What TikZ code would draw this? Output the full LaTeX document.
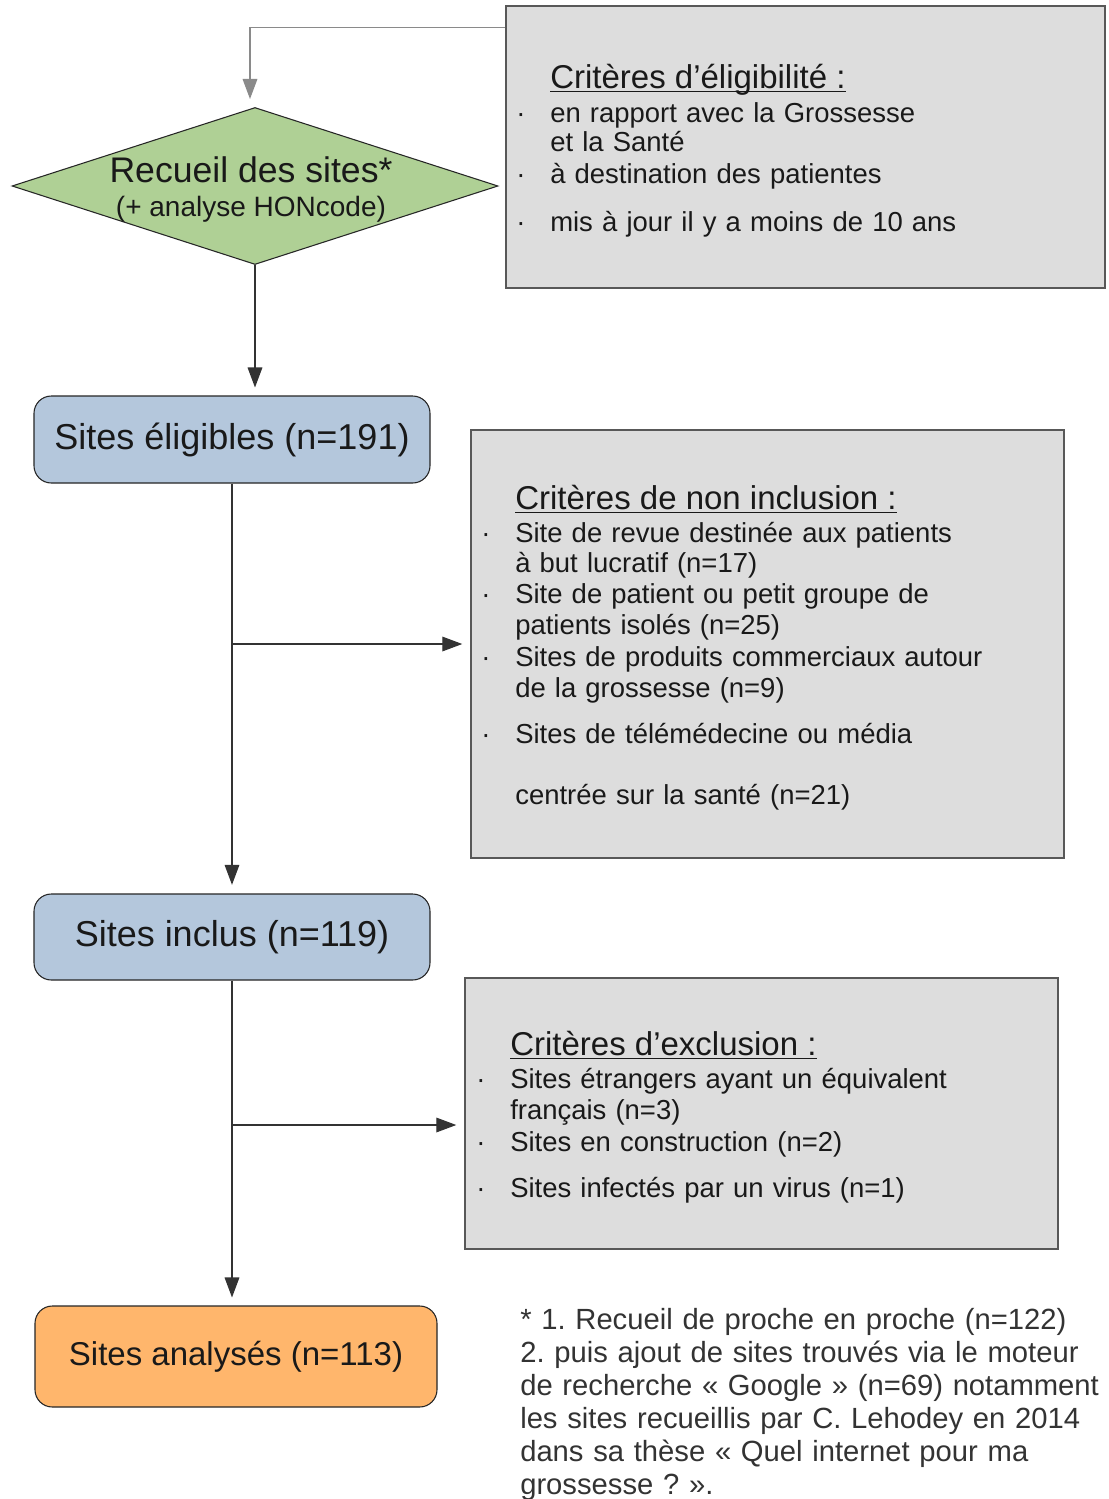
\documentclass[tikz,border=0pt]{standalone}
\usepackage{fontspec}
\setmainfont{Liberation Sans}
\usetikzlibrary{shapes.geometric,arrows.meta,calc}
\definecolor{boxgray}{HTML}{DDDDDD}
\definecolor{boxline}{HTML}{585858}
\definecolor{bluefill}{HTML}{B4C7DC}
\definecolor{orangefill}{HTML}{FFB66C}
\definecolor{greenfill}{HTML}{AFD095}
\definecolor{linecol}{HTML}{333333}
\definecolor{toplinecol}{HTML}{8A8A8A}
\definecolor{notecol}{HTML}{333333}
\newlength\pxu
\setlength\pxu{0.75pt}
\newcommand\myul[1]{\setbox0=\hbox{#1}\rlap{\rule[-3pt]{\wd0}{0.9pt}}\box0}
\newcommand\bul{\leavevmode\llap{·\hspace*{18.5pt}}}
\newcommand\ttlfont{\fontsize{24.75}{27}\selectfont}
\frenchspacing
\begin{document}
\begin{tikzpicture}[x=0.75pt,y=-0.75pt,
  graybox/.style={rectangle, draw=boxline, line width=1.1pt, fill=boxgray, inner sep=0pt},
  roundbox/.style={rectangle, rounded corners=13pt, draw=black!85, line width=0.8pt, inner sep=0pt,
     font=\fontsize{27}{30}\selectfont, text=black!90},
  crittext/.style={anchor=base west, inner sep=0pt, align=left, text=black!90,
     font=\fontsize{20.6}{23.25}\selectfont\frenchspacing},
  arr/.style={draw=linecol, line width=0.9pt, -{Triangle[length=15pt,width=11pt]}},
]
\useasboundingbox (0,0) rectangle (1109,1499);
\fill[white] (0,0) rectangle (1109,1499);

% --- boxes
\node[graybox, minimum width=599\pxu, minimum height=282\pxu] (crit) at (805.5,147) {};
\node[graybox, minimum width=593\pxu, minimum height=428\pxu] (noninc) at (767.5,644) {};
\node[graybox, minimum width=593\pxu, minimum height=271\pxu] (excl) at (761.5,1113.5) {};

\node[diamond, draw=black!85, line width=0.8pt, fill=greenfill, inner sep=0pt, shape aspect=3.1,
      minimum width=486\pxu, minimum height=157\pxu] (recueil) at (255,186) {};
\node[inner sep=0pt, align=center, text=black!90, font=\fontsize{26.7}{25.5}\selectfont]
      (recueiltxt) at ($(recueil.center)+(-4,4)$)
      {Recueil des sites*\\{\fontsize{21}{25.5}\selectfont (+ analyse HONcode)}};

\node[roundbox, fill=bluefill, minimum width=396\pxu, minimum height=87\pxu] (elig) at (232,439.5) {Sites éligibles (n=191)};
\node[roundbox, fill=bluefill, minimum width=396\pxu, minimum height=86\pxu] (inclus) at (232,937) {Sites inclus (n=119)};
\node[roundbox, fill=orangefill, minimum width=402\pxu, minimum height=101\pxu,
      font=\fontsize{24.75}{28}\selectfont] (anal) at (236,1356.5) {Sites analysés (n=113)};

% --- texts in the grey boxes
\node[crittext, text width=540\pxu] (crittxt) at (550,88)
 {{\ttlfont\myul{Critères d’éligibilité :}}\\[2.25pt]
  \bul en rapport avec la Grossesse\\[-1.5pt]
  et la Santé\\[0.75pt]
  \bul à destination des patientes\\[12.75pt]
  \bul mis à jour il y a moins de 10 ans};

\node[crittext, text width=540\pxu] (noninctxt) at (515,509)
 {{\ttlfont\myul{Critères de non inclusion :}}\\[1.5pt]
  \bul Site de revue destinée aux patients\\[-0.75pt]
  à but lucratif (n=17)\\
  \bul Site de patient ou petit groupe de\\
  patients isolés (n=25)\\[0.75pt]
  \bul Sites de produits commerciaux autour\\
  de la grossesse (n=9)\\[11.25pt]
  \bul Sites de télémédecine ou média\\[22.5pt]
  centrée sur la santé (n=21)};

\node[crittext, text width=540\pxu] (excltxt) at (510,1055)
 {{\ttlfont\myul{Critères d’exclusion :}}\\[1.5pt]
  \bul Sites étrangers ayant un équivalent\\
  français (n=3)\\[0.75pt]
  \bul Sites en construction (n=2)\\[11.25pt]
  \bul Sites infectés par un virus (n=1)};

% --- footnote
\node[anchor=base west, inner sep=0pt, align=left, text width=600\pxu, text=notecol,
      font=\fontsize{21.9}{24.75}\selectfont\frenchspacing] (note) at (520,1329)
 {* 1. Recueil de proche en proche (n=122)\\
  2. puis ajout de sites trouvés via le moteur\\
  de recherche « Google » (n=69) notamment\\
  les sites recueillis par C. Lehodey en 2014\\
  dans sa thèse « Quel internet pour ma\\
  grossesse ? ».};

% --- connectors
\coordinate (critin) at ($(crit.north west)+(0,22)$);
\coordinate (recin) at ($(recueil.north)+(-5,0)$);
\draw[arr, draw=toplinecol, shorten >=6pt] (critin) -| (recin);
\draw[arr, shorten >=6pt] (recueil.south) -- (recueil.south |- elig.north);
\draw[arr, shorten >=6.5pt] (elig.south) -- (inclus.north);
\draw[arr, shorten >=6pt] (elig.south |- noninc.west) -- (noninc.west);
\coordinate (exin) at ($(excl.west)+(0,11.5)$);
\draw[arr, shorten >=6pt] (inclus.south |- exin) -- (exin);
\draw[arr, shorten >=6pt] (inclus.south) -- (inclus.south |- anal.north);
\end{tikzpicture}
\end{document}
